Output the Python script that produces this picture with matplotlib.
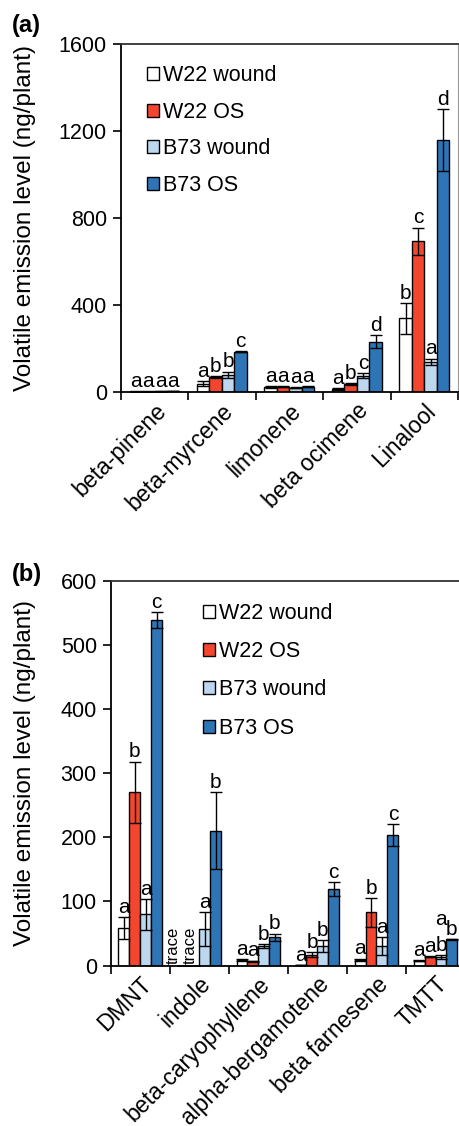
import numpy as np
import matplotlib.pyplot as plt
from matplotlib.patches import Patch

plt.rcParams['font.family'] = ['Liberation Sans', 'DejaVu Sans']

series = ['W22 wound', 'W22 OS', 'B73 wound', 'B73 OS']
colors = ['#FFFFFF', '#F4462F', '#BDD7EE', '#2E75B6']

# panel (a)
cats_a = ['beta-pinene', 'beta-myrcene', 'limonene', 'beta ocimene', 'Linalool']
vals_a = np.array([
    [3, 40, 25, 15, 340],
    [3, 72, 25, 37, 694],
    [4, 80, 22, 77, 140],
    [5, 187, 25, 233, 1160],
])
errs_a = np.array([
    [1, 10, 3, 3, 72],
    [1, 4, 2, 4, 63],
    [1, 15, 2, 12, 15],
    [1, 4, 2, 30, 143],
])
letters_a = [
    ['a', 'a', 'a', 'a', 'b'],
    ['a', 'b', 'a', 'b', 'c'],
    ['a', 'b', 'a', 'c', 'a'],
    ['a', 'c', 'a', 'd', 'd'],
]

# panel (b)
cats_b = ['DMNT', 'indole', 'beta-caryophyllene', 'alpha-bergamotene',
          'beta farnesene', 'TMTT']
vals_b = np.array([
    [59, 0, 9, 1, 9, 8],
    [270, 0, 7, 17, 83, 14],
    [80, 57, 30, 31, 30, 14],
    [539, 210, 44, 119, 203, 41],
])
errs_b = np.array([
    [17, 0, 1, 0, 2, 1],
    [48, 0, 1, 4, 22, 1],
    [24, 27, 3, 9, 14, 3],
    [12, 60, 6, 11, 17, 1],
])
letters_b = [
    ['a', '', 'a', 'a', 'a', 'a'],
    ['b', '', 'a', 'b', 'b', 'a'],
    ['a', 'a', 'b', 'b', 'a', 'b'],
    ['c', 'b', 'b', 'c', 'c', 'b'],
]

fig = plt.figure(figsize=(4.6, 11.26), dpi=100)
ax1 = fig.add_axes([0.2624, 0.6516, 0.7333, 0.3091])
ax2 = fig.add_axes([0.2407, 0.1424, 0.7703, 0.3419])

w = 0.185


def draw(ax, cats, vals, errs, letters, ymax, step, ylab_x):
    n = len(cats)
    x = np.arange(n) + 0.5
    for i in range(4):
        xi = x + (i - 1.5) * w
        ax.bar(xi, vals[i], w, color=colors[i], edgecolor='black', linewidth=1.0,
               yerr=errs[i], error_kw=dict(ecolor='black', elinewidth=1.0,
                                           capsize=4, capthick=1.0),
               label=series[i], zorder=2)
        for j in range(n):
            if letters[i][j]:
                ax.annotate(letters[i][j], (xi[j], vals[i][j] + errs[i][j]),
                            xytext=(0, 3), textcoords='offset points',
                            ha='center', va='baseline', fontsize=15)
    ax.set_xlim(0, n)
    ax.set_ylim(0, ymax)
    ax.set_yticks(np.arange(0, ymax + 1, step))
    ax.set_xticks(np.arange(n + 1))
    ax.set_xticklabels([])
    ax.set_xticks(x, minor=True)
    ax.set_xticklabels(cats, minor=True, rotation=45, ha='right',
                       rotation_mode='anchor', fontsize=16.5)
    ax.tick_params(axis='x', which='minor', length=0, pad=5)
    ax.tick_params(axis='x', which='major', length=6, width=1.2, direction='out')
    ax.tick_params(axis='y', length=6, width=1.2, labelsize=15.5, pad=4)
    ax.spines['right'].set_visible(False)
    ax.spines['top'].set_color('#333333')
    for s in ['left', 'bottom', 'top']:
        ax.spines[s].set_linewidth(1.3)
    ax.set_ylabel('Volatile emission level (ng/plant)', fontsize=17.5)
    ax.yaxis.set_label_coords(ylab_x, 0.5)


draw(ax1, cats_a, vals_a, errs_a, letters_a, 1600, 400, -0.251)
draw(ax2, cats_b, vals_b, errs_b, letters_b, 600, 100, -0.211)
ax1.spines['right'].set_visible(True)
ax1.spines['right'].set_color('#999999')

# trace labels for indole
for xt in [1.06, 1.34]:
    ax2.text(xt, 3, 'trace', rotation=90, ha='center', va='bottom', fontsize=12)
# extra raised letter over TMTT
ax2.annotate('a', (5.5 + 0.5 * w, vals_b[3][5] + errs_b[3][5]),
             xytext=(0, 10), textcoords='offset points',
             ha='center', va='baseline', fontsize=15)

handles = [Patch(facecolor=c, edgecolor='black', linewidth=1.0) for c in colors]
for ax, anchor, sp in [(ax1, (0.079, 0.94), 0.72), (ax2, (0.26, 0.942), 0.8)]:
    ax.legend(handles, series, loc='upper left', bbox_to_anchor=anchor,
              frameon=False, fontsize=15.5, handlelength=0.55, handleheight=0.55,
              handletextpad=0.2, labelspacing=sp, borderpad=0, borderaxespad=0)

fig.text(0.026, 0.988, '(a)', fontsize=17, fontweight='bold', va='top')
fig.text(0.026, 0.5, '(b)', fontsize=17, fontweight='bold', va='top')

fig.savefig('out.png', dpi=100)
